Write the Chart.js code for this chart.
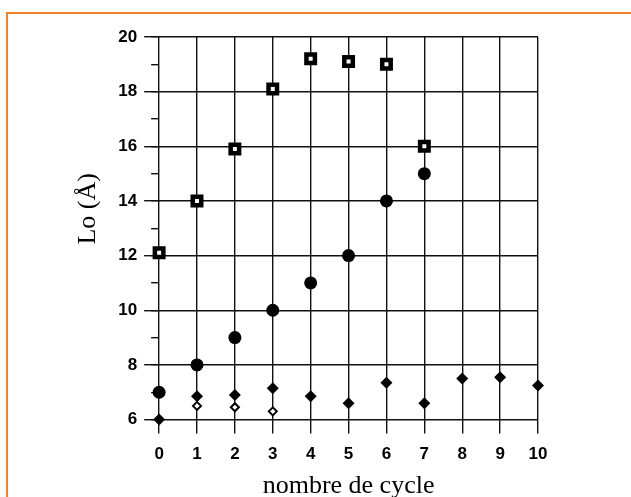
<!DOCTYPE html>
<html>
<head>
<meta charset="utf-8">
<script src="https://cdn.jsdelivr.net/npm/chart.js@4.4.1/dist/chart.umd.min.js"></script>
<style>
  body { margin: 0; background: #fff; }
  #wrap { position: relative; width: 631px; height: 497px; }
  #frame { position: absolute; left: 6px; top: 12px; right: -10px; bottom: -10px;
           border-left: 2.5px solid #f58025; border-top: 2.5px solid #f58025; }
</style>
</head>
<body>
<div id="wrap">
  <div id="frame"></div>
  <canvas id="canvas" width="631" height="497"></canvas>
</div>
<script>
// nombre de cycle
var squareCycles = [0, 1, 2, 3, 4, 5, 6, 7];
var squareLo = [12.1, 14.0, 15.9, 18.1, 19.2, 19.1, 19.0, 16.0];

var circleCycles = [0, 1, 2, 3, 4, 5, 6, 7];
var circleLo = [7.0, 8.0, 9.0, 10.0, 11.0, 12.0, 14.0, 15.0];

var diamondCycles = [0, 1, 2, 3, 4, 5, 6, 7, 8, 9, 10];
var diamondLo = [6.0, 6.85, 6.9, 7.15, 6.85, 6.6, 7.35, 6.6, 7.5, 7.55, 7.25];

var openCycles = [1, 2, 3];
var openLo = [6.5, 6.45, 6.3];

var xTicks = [0, 1, 2, 3, 4, 5, 6, 7, 8, 9, 10];
var yTicks = [6, 8, 10, 12, 14, 16, 18, 20];

function pts(xs, ys) {
    var out = [];
    for (var i = 0; i < xs.length; i++) {
        out.push({x: xs[i], y: ys[i]});
    }
    return out;
}

var tickFont = {family: "'Liberation Sans', Arial, sans-serif", size: 17, weight: 'bold', lineHeight: 1.25};
var titleFont = {family: "'Liberation Serif', 'Times New Roman', serif", size: 26};
var lineCol = '#111';

var chartdata = {
    datasets: [
        {
            data: pts(squareCycles, squareLo),
            pointStyle: 'rect',
            pointRadius: 6,
            borderWidth: 4.5,
            borderColor: '#000',
            backgroundColor: '#fff',
            clip: false
        },
        {
            data: pts(circleCycles, circleLo),
            pointStyle: 'circle',
            pointRadius: 6.5,
            borderWidth: 0,
            backgroundColor: '#000',
            clip: false
        },
        {
            data: pts(diamondCycles, diamondLo),
            pointStyle: 'rectRot',
            pointRadius: 6,
            borderWidth: 0,
            backgroundColor: '#000',
            clip: false
        },
        {
            data: pts(openCycles, openLo),
            pointStyle: 'rectRot',
            pointRadius: 4,
            borderWidth: 2,
            borderColor: '#000',
            backgroundColor: '#fff',
            clip: false
        }
    ]
};

var ctx = document.getElementById('canvas');

var graph = new Chart(ctx, {
    type: 'scatter',
    data: chartdata,
    options: {
        responsive: false,
        animation: false,
        layout: {
            padding: {left: 73, right: 93, top: 37, bottom: 0}
        },
        plugins: {
            legend: {display: false},
            tooltip: {enabled: false}
        },
        scales: {
            x: {
                type: 'linear',
                min: 0,
                max: 10,
                afterBuildTicks: function(scale) {
                    scale.ticks = xTicks.map(function(v) { return {value: v}; });
                },
                ticks: {color: '#000', font: tickFont, padding: 10},
                grid: {color: lineCol, lineWidth: 1.4, tickLength: 14, tickColor: lineCol},
                border: {display: false},
                title: {
                    display: true,
                    text: 'nombre de cycle',
                    color: '#000',
                    font: {family: titleFont.family, size: 26, lineHeight: 0.8},
                    padding: {top: 1.4, bottom: 0}
                }
            },
            y: {
                type: 'linear',
                min: 6,
                max: 20,
                weight: 1,
                afterBuildTicks: function(scale) {
                    scale.ticks = yTicks.map(function(v) { return {value: v}; });
                },
                ticks: {color: '#000', font: tickFont, padding: 7},
                grid: {color: lineCol, lineWidth: 1.4, tickLength: 15, tickColor: lineCol},
                border: {display: false},
                title: {
                    display: true,
                    text: '      Lo (Å)',
                    color: '#000',
                    font: titleFont,
                    padding: {top: 0, bottom: 7}
                }
            },
            yMinor: {
                type: 'linear',
                position: 'left',
                min: 6,
                max: 20,
                weight: 0,
                ticks: {display: false, stepSize: 1},
                grid: {drawOnChartArea: false, tickLength: 8, tickColor: lineCol, lineWidth: 1.4},
                border: {display: false},
                afterFit: function(scale) { scale.width = 0; }
            }
        }
    }
});
</script>
</body>
</html>
